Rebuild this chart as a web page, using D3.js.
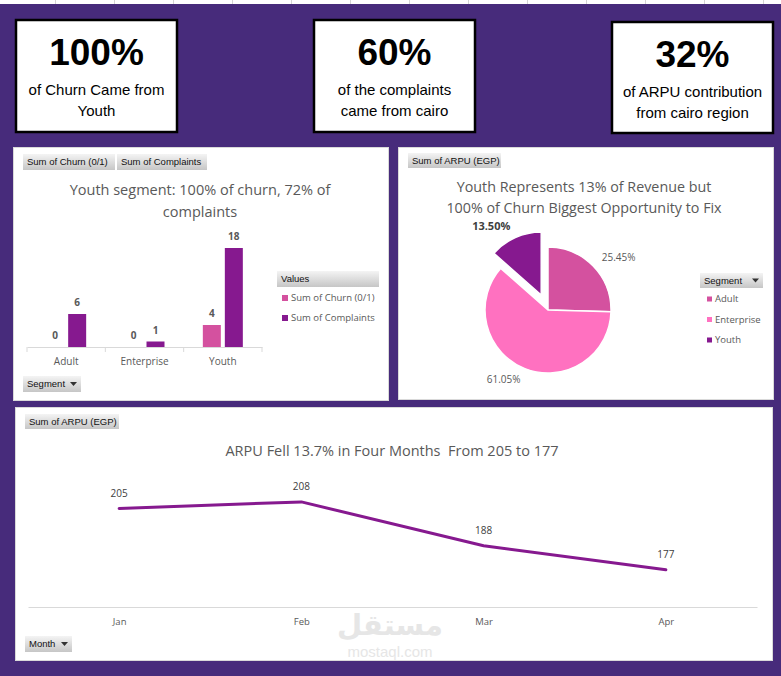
<!DOCTYPE html>
<html>
<head>
<meta charset="utf-8">
<script src="https://cdn.jsdelivr.net/npm/d3@7"></script>
<style>
  html, body { margin: 0; padding: 0; background: #ffffff; }
  svg { display: block; }
  text { font-family: "Open Sans", "Liberation Sans", Arial, sans-serif; }
</style>
</head>
<body>
<svg id="chart" width="781" height="676"></svg>
<script>
// ---------------- DATA ----------------
const kpiValues = ["100%", "60%", "32%"];
const kpiLines = [
  ["of Churn Came from", "Youth"],
  ["of the complaints", "came from cairo"],
  ["of ARPU contribution", "from cairo region"]
];

const segments = ["Adult", "Enterprise", "Youth"];
const churnValues = [0, 0, 4];
const complaintValues = [6, 1, 18];
const barSeries = ["Sum of Churn (0/1)", "Sum of Complaints"];
const barTitle = ["Youth segment: 100% of churn, 72% of", "complaints"];

const arpuSharePct = [25.45, 61.05, 13.50];
const pieTitle = ["Youth Represents 13% of Revenue but", "100% of Churn Biggest Opportunity to Fix"];

const months = ["Jan", "Feb", "Mar", "Apr"];
const arpuValues = [205, 208, 188, 177];
const lineTitle = "ARPU Fell 13.7% in Four Months  From 205 to 177";

// ---------------- STYLE ----------------
const PURPLE_BG = "#472b7b";
const C_CHURN = "#d4519f";
const C_COMPL = "#86198f";
const C_ENT = "#ff71c0";
const TXT = "#595959";
const TXT_DARK = "#404040";

const svg = d3.select("#chart");
const defs = svg.append("defs");
const grad = defs.append("linearGradient").attr("id", "btn").attr("x1", 0).attr("x2", 0).attr("y1", 0).attr("y2", 1);
grad.append("stop").attr("offset", "0%").attr("stop-color", "#f4f4f4");
grad.append("stop").attr("offset", "100%").attr("stop-color", "#c6c6c6");

// background: sheet strip + purple
svg.append("rect").attr("x", 0).attr("y", 0).attr("width", 781).attr("height", 676).attr("fill", "#ffffff");
svg.selectAll("line.grid").data(d3.range(55, 781, 59)).join("line")
  .attr("x1", d => d + 0.5).attr("x2", d => d + 0.5).attr("y1", 0).attr("y2", 4)
  .attr("stroke", "#d4d4d4");
svg.append("rect").attr("x", 0).attr("y", 4).attr("width", 781).attr("height", 672).attr("fill", PURPLE_BG);

// ---------------- KPI CARDS ----------------
const cardBoxes = [
  {x: 16, y: 20, w: 161, h: 112},
  {x: 314, y: 20, w: 161, h: 112},
  {x: 612, y: 22, w: 161, h: 111}
];
cardBoxes.forEach((b, i) => {
  const g = svg.append("g");
  g.append("rect").attr("x", b.x).attr("y", b.y).attr("width", b.w).attr("height", b.h)
    .attr("fill", "#fff").attr("stroke", "#000").attr("stroke-width", 2.5);
  const cx = b.x + b.w / 2;
  g.append("text").attr("x", cx).attr("y", b.y + 45).attr("text-anchor", "middle")
    .style("font-family", "'Liberation Sans', Arial, sans-serif")
    .style("font-weight", "bold").style("font-size", "37px").attr("fill", "#000")
    .text(kpiValues[i]);
  kpiLines[i].forEach((t, j) => {
    g.append("text").attr("x", cx).attr("y", b.y + 75 + j * 21).attr("text-anchor", "middle")
      .style("font-family", "'Liberation Sans', Arial, sans-serif")
      .style("font-size", "15px").attr("fill", "#000").text(t);
  });
});

// ---------------- helpers ----------------
function panel(x, y, w, h) {
  svg.append("rect").attr("x", x + 0.5).attr("y", y + 0.5).attr("width", w).attr("height", h)
    .attr("fill", "#fff").attr("stroke", "#d9d9d9");
}
function button(x, y, w, h, label, arrow) {
  const g = svg.append("g");
  g.append("rect").attr("x", x).attr("y", y).attr("width", w).attr("height", h)
    .attr("fill", "url(#btn)");
  g.append("text").attr("x", x + 4).attr("y", y + h / 2).attr("dy", "0.35em")
    .style("font-family", "'Liberation Sans', Arial, sans-serif")
    .style("font-size", "9.5px").attr("fill", "#111").text(label);
  if (arrow) {
    const ax = x + w - 11, ay = y + h / 2 - 2;
    g.append("path").attr("d", `M${ax},${ay} L${ax + 7},${ay} L${ax + 3.5},${ay + 4} Z`).attr("fill", "#333");
  }
}
function legendItem(x, y, color, label, size) {
  svg.append("rect").attr("x", x).attr("y", y - size / 2).attr("width", size).attr("height", size).attr("fill", color);
  svg.append("text").attr("x", x + size + 3).attr("y", y).attr("dy", "0.35em")
    .style("font-size", "9.5px").attr("fill", TXT).text(label);
}

// ---------------- BAR PANEL ----------------
panel(13, 147, 375, 253);
button(23, 154, 92, 16, barSeries[0], false);
button(117, 154, 90, 16, barSeries[1], false);
button(23, 376, 58, 16, "Segment", true);

barTitle.forEach((t, j) => {
  svg.append("text").attr("x", 200).attr("y", 190 + j * 22).attr("dy", "0.35em").attr("text-anchor", "middle")
    .style("font-size", "14.5px").attr("fill", TXT).text(t);
});

const xBar = d3.scaleBand().domain(segments).range([27, 262]).padding(0);
const xSub = d3.scaleBand().domain(["churn", "compl"]).range([-20, 20]).paddingInner(4 / 22).paddingOuter(0);
const yBar = d3.scaleLinear().domain([0, 20]).range([347, 237]);

const barData = [];
segments.forEach((s, i) => {
  barData.push({seg: s, key: "churn", v: churnValues[i], color: C_CHURN});
  barData.push({seg: s, key: "compl", v: complaintValues[i], color: C_COMPL});
});
const barG = svg.append("g");
barG.selectAll("rect").data(barData).join("rect")
  .attr("x", d => xBar(d.seg) + xBar.bandwidth() / 2 + xSub(d.key))
  .attr("width", xSub.bandwidth())
  .attr("y", d => yBar(d.v))
  .attr("height", d => yBar(0) - yBar(d.v))
  .attr("fill", d => d.color);
barG.selectAll("text").data(barData).join("text")
  .attr("x", d => xBar(d.seg) + xBar.bandwidth() / 2 + xSub(d.key) + xSub.bandwidth() / 2)
  .attr("y", d => yBar(d.v) - 8)
  .attr("text-anchor", "middle")
  .style("font-size", "10px").style("font-weight", "bold").attr("fill", TXT)
  .text(d => d.v);

// axis
const xAxisG = svg.append("g").attr("transform", `translate(0,${yBar(0)})`)
  .call(d3.axisBottom(xBar).tickSize(0).tickPadding(11));
xAxisG.select(".domain").attr("stroke", "#d9d9d9");
xAxisG.selectAll(".tick text").style("font-size", "10px").attr("fill", TXT)
  .style("font-family", "'Open Sans', sans-serif");
const edges = segments.map(s => xBar(s)).concat([xBar.range()[1]]);
xAxisG.selectAll("line.sep").data(edges).join("line")
  .attr("x1", d => d).attr("x2", d => d).attr("y1", 0).attr("y2", 5).attr("stroke", "#d9d9d9");

// legend
button(277, 271, 102, 16, "Values", false);
legendItem(282, 298, C_CHURN, barSeries[0], 6);
legendItem(282, 318, C_COMPL, barSeries[1], 6);

// ---------------- PIE PANEL ----------------
panel(398, 147, 375, 252);
button(408, 153, 93, 15, "Sum of ARPU (EGP)", false);
pieTitle.forEach((t, j) => {
  svg.append("text").attr("x", 584).attr("y", 187 + j * 21).attr("dy", "0.35em").attr("text-anchor", "middle")
    .style("font-size", "14.3px").attr("fill", TXT).text(t);
});

const pieColors = d3.scaleOrdinal().domain(segments).range([C_CHURN, C_ENT, C_COMPL]);
const pieData = d3.pie().sort(null).value(d => d.v)(segments.map((s, i) => ({seg: s, v: arpuSharePct[i]})));
const R = 63;
const explode = {Youth: 16.5};
const arcGen = d3.arc().innerRadius(0).outerRadius(R);
const pieG = svg.append("g").attr("transform", "translate(548,310)");
function offset(d) {
  const e = explode[d.data.seg] || 0;
  const a = (d.startAngle + d.endAngle) / 2;
  return [Math.sin(a) * e, -Math.cos(a) * e];
}
pieG.selectAll("path").data(pieData).join("path")
  .attr("d", arcGen)
  .attr("transform", d => `translate(${offset(d)})`)
  .attr("fill", d => pieColors(d.data.seg))
  .attr("stroke", "#fff").attr("stroke-width", 1.5);
const LR = 75;
pieG.selectAll("text").data(pieData).join("text")
  .attr("x", d => { const a = (d.startAngle + d.endAngle) / 2; return offset(d)[0] + Math.sin(a) * LR; })
  .attr("y", d => { const a = (d.startAngle + d.endAngle) / 2; return offset(d)[1] - Math.cos(a) * LR; })
  .attr("dy", "0.35em")
  .attr("text-anchor", d => Math.sin((d.startAngle + d.endAngle) / 2) >= 0 ? "start" : "end")
  .style("font-size", d => d.data.seg === "Youth" ? "11px" : "10px")
  .style("font-weight", d => d.data.seg === "Youth" ? "bold" : "normal")
  .attr("fill", d => d.data.seg === "Youth" ? TXT_DARK : TXT)
  .text(d => d.data.v.toFixed(2) + "%");

button(700, 273, 63, 15, "Segment", true);
segments.forEach((s, i) => legendItem(707, 299 + i * 20.5, pieColors(s), s, 5));

// ---------------- LINE PANEL ----------------
panel(15, 407, 757, 253);
button(25, 414, 94, 15, "Sum of ARPU (EGP)", false);
button(25, 636, 47, 16, "Month", true);
svg.append("text").attr("x", 392).attr("y", 451).attr("dy", "0.35em").attr("text-anchor", "middle")
  .attr("xml:space", "preserve").style("white-space", "pre")
  .style("font-size", "14.5px").attr("fill", TXT).text(lineTitle);

// watermark
svg.append("text").attr("x", 390).attr("y", 635).attr("text-anchor", "middle")
  .style("font-family", "'Noto Sans', 'DejaVu Sans', sans-serif").style("font-weight", "bold")
  .style("font-size", "29px").attr("fill", "#e6e6e6").text("مستقل");
svg.append("text").attr("x", 390).attr("y", 657).attr("text-anchor", "middle")
  .style("font-family", "'Liberation Sans', Arial, sans-serif")
  .style("font-size", "15px").attr("fill", "#e6e6e6").text("mostaql.com");

const xLine = d3.scalePoint().domain(months).range([28, 757]).padding(0.5);
const yLine = d3.scaleLinear().domain([160, 220]).range([607, 475.6]);
const lineData = months.map((m, i) => ({m, v: arpuValues[i]}));

const lxAxis = svg.append("g").attr("transform", `translate(0,${yLine(160)})`)
  .call(d3.axisBottom(xLine).tickSize(0).tickPadding(11));
lxAxis.select(".domain").attr("stroke", "#d9d9d9");
lxAxis.selectAll(".tick text").style("font-size", "9.5px").attr("fill", TXT)
  .style("font-family", "'Open Sans', sans-serif");

svg.append("path").datum(lineData)
  .attr("d", d3.line().x(d => xLine(d.m)).y(d => yLine(d.v)))
  .attr("fill", "none").attr("stroke", C_COMPL).attr("stroke-width", 3)
  .attr("stroke-linejoin", "round").attr("stroke-linecap", "round");
svg.append("g").selectAll("text").data(lineData).join("text")
  .attr("x", d => xLine(d.m)).attr("y", d => yLine(d.v) - 15).attr("dy", "0.35em")
  .attr("text-anchor", "middle").style("font-size", "10px").attr("fill", TXT_DARK)
  .text(d => d.v);
</script>
</body>
</html>
